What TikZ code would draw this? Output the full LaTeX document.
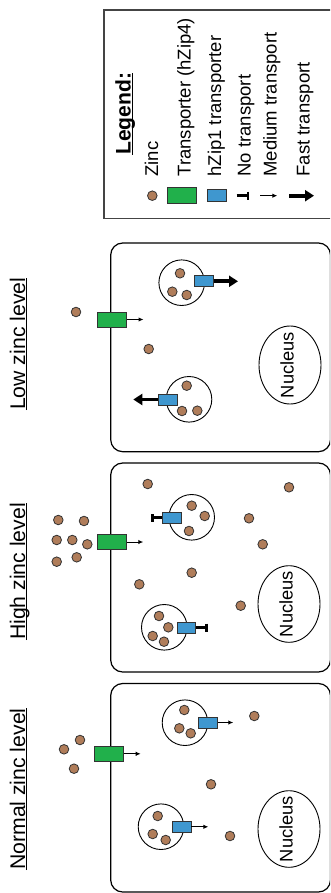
\documentclass[tikz,border=0pt]{standalone}
\usepackage{fontspec}
\setmainfont{Liberation Sans}
\usetikzlibrary{arrows.meta}
\definecolor{zincfill}{HTML}{B07D5A}
\definecolor{hzipfour}{HTML}{21B04B}
\definecolor{hzipone}{HTML}{3F97CF}
\definecolor{edgegrey}{HTML}{333333}
\definecolor{framegrey}{HTML}{444444}

\begin{document}
\begin{tikzpicture}[x=1pt,y=-1pt,
  zinc/.style={circle,draw=edgegrey,fill=zincfill,line width=0.8pt,minimum size=9.6pt,inner sep=0pt},
  pumpfour/.style={rectangle,draw=edgegrey,fill=hzipfour,line width=0.9pt,minimum width=29.5pt,minimum height=15pt,inner sep=0pt},
  pumpone/.style={rectangle,draw=edgegrey,fill=hzipone,line width=0.9pt,minimum width=18.5pt,minimum height=11pt,inner sep=0pt},
  vesicle/.style={circle,draw=black,line width=0.9pt,minimum size=45.6pt,inner sep=0pt},
  cell/.style={draw=black,line width=1.2pt,rounded corners=12pt},
  title/.style={rotate=90,anchor=base west,inner sep=0pt,font=\fontsize{21.2}{25}\selectfont},
  legtext/.style={rotate=90,anchor=base west,inner sep=0pt,font=\fontsize{18.5}{22}\selectfont},
  nuctext/.style={rotate=90,inner sep=0pt,font=\fontsize{18.3}{22}\selectfont},
  uline/.style={line width=1.2pt},
  medium/.style={-{Latex[length=5pt,width=4.5pt]},line width=1pt},
  fast/.style={-{Triangle[length=9pt,width=11pt]},line width=3.8pt},
  stopped/.style={-{Bar[width=8pt]},line width=2.8pt},
]
\useasboundingbox (0,0) rectangle (330,893);
\clip (0,0) rectangle (330,893);

% ---------- legend ----------
\draw[draw=framegrey,line width=1.3pt] (104,10) rectangle (345,218.3);
\node[legtext,font=\fontsize{21.1}{25}\selectfont\bfseries] (lg) at (130.5,155) {Legend:};
\draw[uline] ([xshift=2pt]lg.base west) -- ([xshift=2pt]lg.base east);
\node[legtext] (lzinc) at (158,176.7) {Zinc};
\node[legtext] (lfour) at (190.5,176.7) {Transporter (hZip4)};
\node[legtext] (lone) at (221,176.7) {hZip1 transporter};
\node[legtext] (lno) at (250.5,176.7) {No transport};
\node[legtext] (lmed) at (276.7,176.7) {Medium transport};
\node[legtext] (lfast) at (309.5,176.7) {Fast transport};
\node[zinc] (kzinc) at (152.3,195.7) {};
\node[pumpfour,minimum height=16pt] (kfour) at (182,195.3) {};
\node[pumpone,minimum height=11.7pt] (kone) at (216.7,195.2) {};
\coordinate (kno0) at (236.7,195.7);  \coordinate (kno1) at (249.3,195.7);
\coordinate (kmed0) at (260,195.7);   \coordinate (kmed1) at (277.3,195.7);
\coordinate (kfast0) at (289,195.7);  \coordinate (kfast1) at (314,195.7);
\draw[stopped] (kno0) -- (kno1);
\draw[medium] (kmed0) -- (kmed1);
\draw[fast] (kfast0) -- (kfast1);

% ---------- low zinc level ----------
\draw[cell] (110.7,243) rectangle (330.5,451.7);
\node[title] (tlow) at (25,410) {Low zinc level};
\draw[uline] ([xshift=1.8pt]tlow.base west) -- ([xshift=1.8pt]tlow.base east);
\node[zinc] (lo1) at (76,312) {};
\node[zinc] (lo2) at (148.7,349) {};
\node[pumpfour] (lop) at (112,319.5) {};
\coordinate (lopend) at (143.5,319.5);
\draw[medium] (lop.east) -- (lopend);
\node[vesicle] (lova) at (181.7,282.7) {};
\node[zinc] (loa1) at (180,273.3) {};
\node[zinc] (loa2) at (172.3,291.7) {};
\node[zinc] (loa3) at (186.7,295) {};
\node[pumpone] (loap) at (204,281.3) {};
\coordinate (loaend) at (238,281.3);
\draw[fast] (loap.east) -- (loaend);
\node[vesicle] (lovb) at (189,399.3) {};
\node[zinc] (lob1) at (186.7,385.7) {};
\node[zinc] (lob2) at (182,411) {};
\node[zinc] (lob3) at (197.3,410.7) {};
\node[pumpone] (lobp) at (168,399.5) {};
\coordinate (lobend) at (133.3,399.5);
\draw[fast] (lobp.west) -- (lobend);
\draw[line width=0.9pt] (290,365) ellipse [x radius=31, y radius=39];
\node[nuctext] (lonuc) at (287,365) {Nucleus};

% ---------- high zinc level ----------
\draw[cell] (110.7,463) rectangle (330.5,672);
\node[title] (thigh) at (25,640) {High zinc level};
\draw[uline] ([xshift=1.8pt]thigh.base west) -- ([xshift=1.8pt]thigh.base east);
\foreach \p [count=\i] in {(58.3,520),(84,521),(56.7,540),(72.3,540),(87.3,544.3),(56.7,561.7),(76.7,557.3)}
  \node[zinc] (hiout\i) at \p {};
\node[pumpfour] (hip) at (112,542) {};
\coordinate (hipend) at (143.3,542);
\draw[medium] (hip.east) -- (hipend);
\foreach \p [count=\i] in {(147.7,484),(289,487.3),(249,518.3),(262.7,544.3),(191.7,572.7),(139.3,584.3),(240.7,605.7)}
  \node[zinc] (hiin\i) at \p {};
\node[vesicle] (hiva) at (191.7,517.3) {};
\node[zinc] (hia1) at (191.7,505.7) {};
\node[zinc] (hia2) at (204.7,516) {};
\node[zinc] (hia3) at (189,531) {};
\node[pumpone] (hiap) at (171.7,517.5) {};
\coordinate (hiaend) at (150.7,517.5);
\draw[stopped] (hiap.west) -- (hiaend);
\node[vesicle] (hivb) at (164.3,627.3) {};
\node[zinc] (hib1) at (159,616) {};
\node[zinc] (hib2) at (168.3,627.3) {};
\node[zinc] (hib3) at (152.7,636) {};
\node[zinc] (hib4) at (164,641.7) {};
\node[pumpone] (hibp) at (186.5,627.5) {};
\coordinate (hibend) at (207.7,627.5);
\draw[stopped] (hibp.east) -- (hibend);
\draw[line width=0.9pt] (289,604) ellipse [x radius=31, y radius=38.3];
\node[nuctext] (hinuc) at (286,604) {Nucleus};

% ---------- normal zinc level ----------
\draw[cell] (110.7,683.5) rectangle (330.5,892);
\node[title] (tnorm) at (25,870) {Normal zinc level};
\draw[uline] ([xshift=1.8pt]tnorm.base west) -- ([xshift=1.8pt]tnorm.base east);
\node[zinc] (no1) at (80,740) {};
\node[zinc] (no2) at (64,749.3) {};
\node[zinc] (no3) at (74,768.7) {};
\node[pumpfour] (nop) at (108.7,753.8) {};
\coordinate (nopend) at (140.7,753.8);
\draw[medium] (nop.east) -- (nopend);
\node[vesicle] (nova) at (185,722.7) {};
\node[zinc] (noa1) at (184.3,710) {};
\node[zinc] (noa2) at (179.3,728.3) {};
\node[zinc] (noa3) at (190.7,733.3) {};
\node[pumpone] (noap) at (207.8,722.5) {};
\coordinate (noaend) at (233.3,722.5);
\draw[medium] (noap.east) -- (noaend);
\node[zinc] (no4) at (254.3,716) {};
\node[zinc] (no5) at (211,784.3) {};
\node[zinc] (no6) at (230,836) {};
\node[vesicle] (novb) at (161,826.7) {};
\node[zinc] (nob1) at (157.7,816) {};
\node[zinc] (nob2) at (152.7,834) {};
\node[zinc] (nob3) at (165.7,840) {};
\node[pumpone] (nobp) at (181.7,826.8) {};
\coordinate (nobend) at (208.3,826.8);
\draw[medium] (nobp.east) -- (nobend);
\draw[line width=0.9pt] (289,829) ellipse [x radius=31, y radius=38.3];
\node[nuctext] (nonuc) at (286,829) {Nucleus};
\end{tikzpicture}
\end{document}
